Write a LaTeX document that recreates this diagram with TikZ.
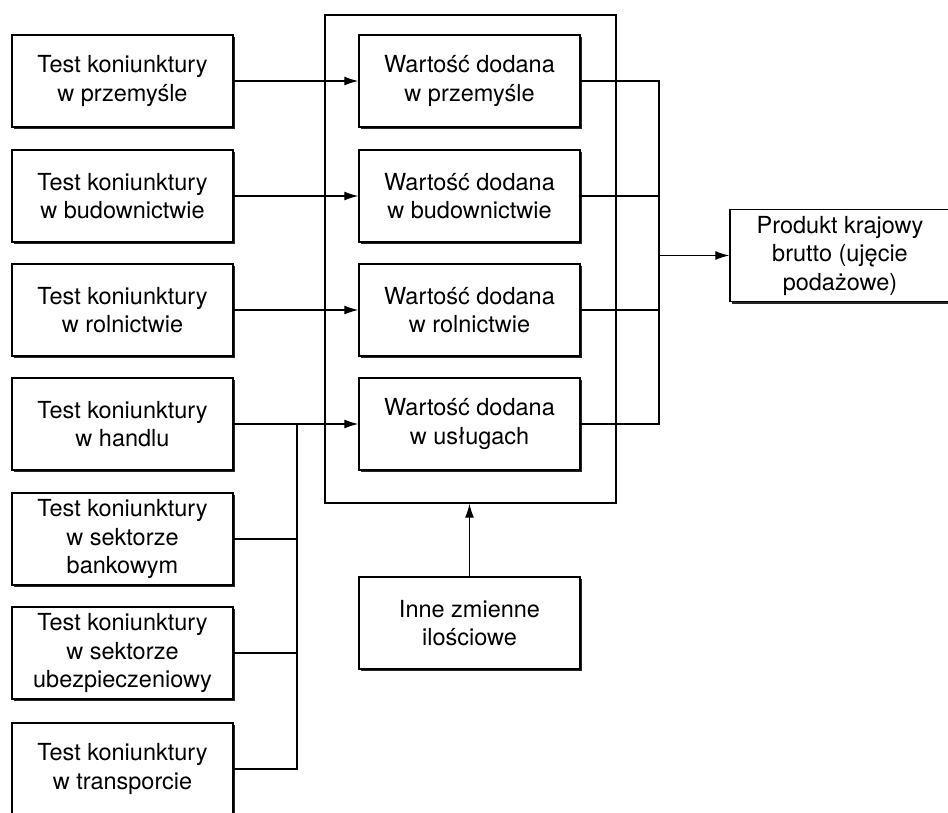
\documentclass[tikz,border=0pt]{standalone}
\usepackage{fontspec}
\setmainfont{TeX Gyre Heros}
\usetikzlibrary{arrows.meta,shadows}

\begin{document}
\begin{tikzpicture}[x=1pt,y=-1pt,
    box/.style={draw,line width=1.4pt,fill=white,minimum width=221pt,minimum height=92pt,
        align=center,font=\fontsize{23.5}{28.5}\selectfont,
        drop shadow={shadow xshift=2pt,shadow yshift=-2pt,opacity=1,fill=black!85}},
    frame/.style={draw,line width=1.3pt,minimum width=291pt,minimum height=488pt},
    link/.style={line width=1.3pt},
    arr/.style={line width=1.3pt,-{Latex[length=14pt,width=9pt]}}]
    \useasboundingbox (0,0) rectangle (948,812);
    % ramka wokol wartosci dodanej
    \node[frame] (grp) at (470.5,259) {};
    % testy koniunktury
    \node[box] (t1) at (122.5,81) {Test koniunktury\\w przemyśle};
    \node[box] (t2) at (122.5,196) {Test koniunktury\\w budownictwie};
    \node[box] (t3) at (122.5,310) {Test koniunktury\\w rolnictwie};
    \node[box] (t4) at (122.5,424) {Test koniunktury\\w handlu};
    \node[box] (t5) at (122.5,539) {Test koniunktury\\w sektorze\\bankowym};
    \node[box] (t6) at (122.5,653) {Test koniunktury\\w sektorze\\ubezpieczeniowy};
    \node[box] (t7) at (122.5,769) {Test koniunktury\\w transporcie};
    % wartosc dodana
    \node[box] (m1) at (469.5,81) {Wartość dodana\\w przemyśle};
    \node[box] (m2) at (469.5,196) {Wartość dodana\\w budownictwie};
    \node[box] (m3) at (469.5,310) {Wartość dodana\\w rolnictwie};
    \node[box] (m4) at (469.5,424) {Wartość dodana\\w usługach};
    \node[box] (inne) at (469.5,623) {Inne zmienne\\ilościowe};
    \node[box,minimum width=220pt] (pkb) at (840,255.5) {Produkt krajowy\\brutto (ujęcie\\podażowe)};
    \coordinate (lbus) at (297,424);
    \coordinate (rbus) at (659,255.5);
    % polaczenia
    \draw[arr] (t1) -- (m1);
    \draw[arr] (t2) -- (m2);
    \draw[arr] (t3) -- (m3);
    \draw[arr] (t4) -- (m4);
    \draw[link] (t5.east) -| (lbus);
    \draw[link] (t6.east) -| (lbus);
    \draw[link] (t7.east) -| (lbus);
    \draw[link] (m1.east) -| (rbus);
    \draw[link] (m2.east) -| (rbus);
    \draw[link] (m3.east) -| (rbus);
    \draw[link] (m4.east) -| (rbus);
    \draw[arr] (rbus) -- (pkb.west);
    \draw[arr] (inne.north) -- (inne.north |- grp.south);
\end{tikzpicture}
\end{document}
